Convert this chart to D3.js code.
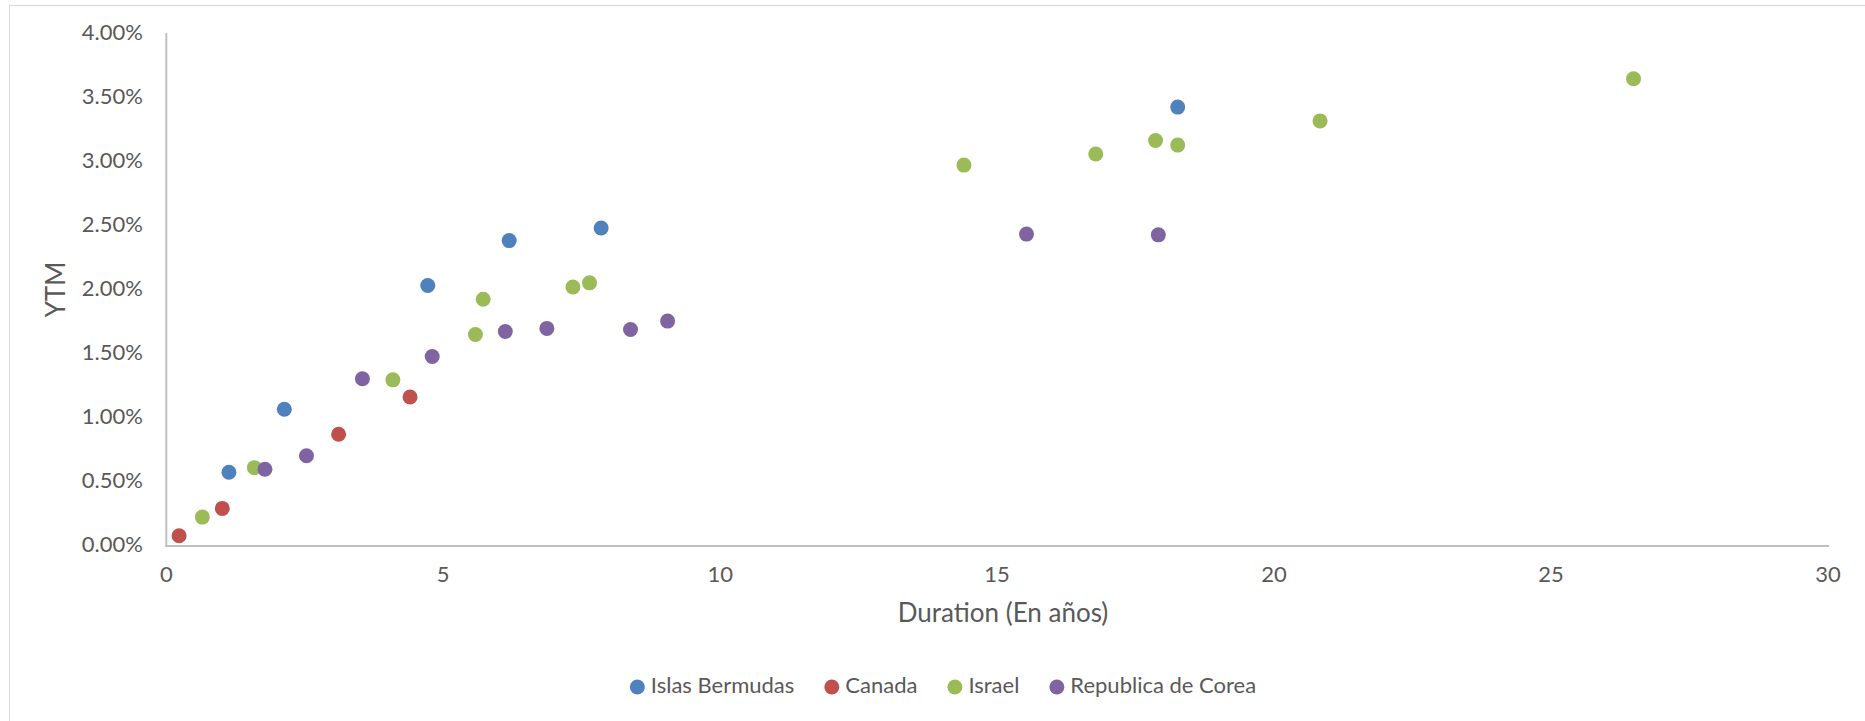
<!DOCTYPE html>
<html><head><meta charset="utf-8">
<script src="https://cdn.jsdelivr.net/npm/d3@7"></script>
<style>
html,body{margin:0;padding:0;background:#fff;}
svg{display:block;}
text{font-family:Lato,"Liberation Sans",sans-serif;fill:#595959;}
</style></head>
<body>
<svg id="c" width="1865" height="721"></svg>
<script>
const seriesNames = ["Islas Bermudas", "Canada", "Israel", "Republica de Corea"];
const seriesColors = ["#4f81bd", "#c0504d", "#9bbb59", "#8064a2"];
const bermudasX = [1.14, 2.14, 4.73, 6.20, 7.86, 18.27];
const bermudasY = [0.572, 1.064, 2.031, 2.382, 2.481, 3.425];
const canadaX = [0.24, 1.02, 3.12, 4.41];
const canadaY = [0.076, 0.290, 0.869, 1.160];
const israelX = [0.66, 1.60, 4.10, 5.59, 5.73, 7.35, 7.65, 14.41, 16.79, 17.87, 18.27, 20.84, 26.50];
const israelY = [0.222, 0.608, 1.294, 1.648, 1.924, 2.019, 2.052, 2.972, 3.059, 3.164, 3.128, 3.317, 3.646];
const coreaX = [1.79, 2.54, 3.55, 4.81, 6.13, 6.88, 8.39, 9.06, 15.54, 17.92];
const coreaY = [0.596, 0.701, 1.303, 1.477, 1.672, 1.696, 1.687, 1.753, 2.433, 2.427];
const xTicks = [0, 5, 10, 15, 20, 25, 30];
const yTicks = [0, 0.5, 1, 1.5, 2, 2.5, 3, 3.5, 4];
const xTitle = "Duration (En años)";
const yTitle = "YTM";

const seriesX = [bermudasX, canadaX, israelX, coreaX];
const seriesY = [bermudasY, canadaY, israelY, coreaY];

const svg = d3.select("#c");
const FS = 22;
const TFS = 26;
// chart border
svg.append("rect").attr("x", 9.5).attr("y", 5.5).attr("width", 1900).attr("height", 800)
  .attr("fill", "none").attr("stroke", "#d9d9d9").attr("stroke-width", 1);

const x = d3.scaleLinear().domain([0, 30]).range([165.8, 1827.4]);
const y = d3.scaleLinear().domain([0, 4]).range([545.5, 33.5]);

// x axis
const xAxis = d3.axisBottom(x).tickValues(xTicks).tickSize(0).tickPadding(0).tickFormat(d3.format("d"));
const gx = svg.append("g").attr("transform", `translate(0,${y(0)})`).call(xAxis);
gx.select(".domain").attr("stroke", "#bfbfbf").attr("stroke-width", 2);
gx.selectAll("text").attr("font-size", FS).attr("dy", null).attr("y", 31)
  .attr("dominant-baseline", "middle").attr("font-family", null).attr("fill", "#595959");

// y axis
const yAxis = d3.axisLeft(y).tickValues(yTicks).tickSize(0).tickPadding(0).tickFormat(d => d.toFixed(2) + "%");
const gy = svg.append("g").attr("transform", `translate(${x(0)},0)`).call(yAxis);
gy.select(".domain").attr("stroke", "#bfbfbf").attr("stroke-width", 2);
gy.selectAll("text").attr("font-size", FS).attr("dy", null).attr("x", -23)
  .attr("dominant-baseline", "middle").attr("font-family", null).attr("fill", "#595959");
svg.selectAll(".domain").attr("stroke-linecap", "square");

// titles
svg.append("text").attr("x", 1003).attr("y", 615).attr("text-anchor", "middle")
  .attr("dominant-baseline", "middle").attr("font-size", TFS).text(xTitle);
svg.append("text").attr("transform", `translate(58,${(y(0) + y(4)) / 2}) rotate(-90)`)
  .attr("text-anchor", "middle").attr("dominant-baseline", "middle").attr("font-size", TFS).text(yTitle);

// points
seriesNames.forEach((name, i) => {
  const pts = seriesX[i].map((v, j) => ({ x: v, y: seriesY[i][j] }));
  svg.append("g").selectAll("circle").data(pts).join("circle")
    .attr("cx", d => x(d.x)).attr("cy", d => y(d.y)).attr("r", 7.5)
    .attr("fill", seriesColors[i]);
});

// legend
const lg = svg.append("g");
let cur = 0;
seriesNames.forEach((name, i) => {
  const g = lg.append("g");
  g.append("circle").attr("cx", cur + 7.5).attr("cy", 0).attr("r", 7.5).attr("fill", seriesColors[i]);
  const t = g.append("text").attr("x", cur + 21).attr("y", 0).attr("dominant-baseline", "middle")
    .attr("font-size", FS).text(name);
  const w = t.node().getComputedTextLength();
  cur = cur + 21 + w + 30;
});
const total = cur - 30;
lg.attr("transform", `translate(${943 - total / 2},687)`);
</script>
</body></html>
